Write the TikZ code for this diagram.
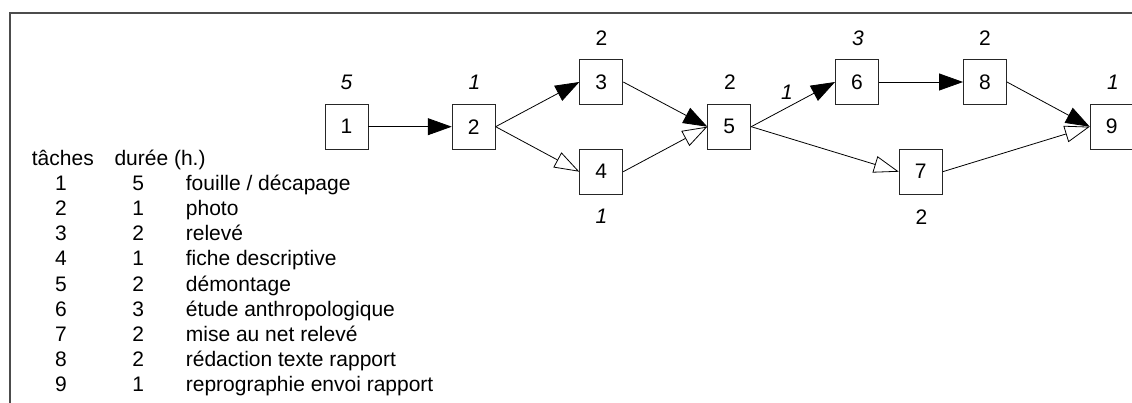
\documentclass[tikz,border=0pt]{standalone}
\usepackage{fontspec}
\setmainfont{Liberation Sans}
\usetikzlibrary{arrows.meta}
\begin{document}
\begin{tikzpicture}[x=1pt,y=-1pt,
  txt/.style={inner sep=0pt, font=\fontsize{21}{25}\selectfont},
  task/.style={txt, draw=black!85, line width=0.9pt, minimum width=43pt, minimum height=45pt},
  dur/.style={txt, anchor=base},
  durit/.style={dur, font=\fontsize{21}{25}\selectfont\itshape},
  tab/.style={txt, anchor=base west},
  tabc/.style={txt, anchor=base},
  crit/.style={-{Triangle[length=24pt,width=17pt]}, line width=0.8pt},
  alt/.style={-{Triangle[open,length=25pt,width=17pt,fill=white]}, line width=0.8pt},
  frame/.style={line width=2pt, black!70}
]
\useasboundingbox (0,0) rectangle (1132,403);
\clip (0,0) rectangle (1132,403);
\coordinate (fa) at (10,403);
\coordinate (fb) at (10,12.7);
\coordinate (fc) at (1133,12.7);
\draw[frame] (fa) -- (fb) -- (fc);

% task boxes
\node[task] (n1) at (346.5,126.7) {1};
\node[task] (n2) at (473.7,126.7) {2};
\node[task] (n3) at (601.3,82) {3};
\node[task] (n4) at (601.3,171.7) {4};
\node[task] (n5) at (729.3,126.7) {5};
\node[task] (n6) at (857,82) {6};
\node[task] (n7) at (920.8,171.7) {7};
\node[task] (n8) at (985,82) {8};
\node[task] (n9) at (1111.7,126.7) {9};

% durations
\node[durit] (d1) at (346.5,90) {5};
\node[durit] (d2) at (474.5,90) {1};
\node[dur]   (d3) at (601.5,46) {2};
\node[durit] (d4) at (601.5,224) {1};
\node[dur]   (d5) at (730,90) {2};
\node[durit] (e56) at (787,99.3) {1};
\node[durit] (d6) at (858,46) {3};
\node[dur]   (d8) at (985,46) {2};
\node[durit] (d9) at (1113,90) {1};
\node[dur]   (d7) at (921.5,225) {2};

% connectors
\draw[crit] (n1.east) -- (n2.west);
\draw[crit] (n2.east) -- (n3.west);
\draw[alt]  (n2.east) -- (n4.west);
\draw[crit] (n3.east) -- (n5.west);
\draw[alt]  (n4.east) -- (n5.west);
\draw[crit] (n5.east) -- (n6.west);
\draw[alt]  (n5.east) -- (n7.west);
\draw[crit] (n6.east) -- (n8.west);
\draw[alt]  (n7.east) -- (n9.west);
\draw[crit] (n8.east) -- (n9.west);

% table
\node[tab] (h1) at (31.7,165.7) {tâches};
\node[tab] (h2) at (114.3,165.7) {durée (h.)};
\node[tabc] (a1) at (61,190.7) {1};
\node[tabc] (b1) at (138.3,190.7) {5};
\node[tab]  (c1) at (185.7,190.7) {fouille / décapage};
\node[tabc] (a2) at (61,215.8) {2};
\node[tabc] (b2) at (138.3,215.8) {1};
\node[tab]  (c2) at (185.7,215.8) {photo};
\node[tabc] (a3) at (61,240.9) {3};
\node[tabc] (b3) at (138.3,240.9) {2};
\node[tab]  (c3) at (185.7,240.9) {relevé};
\node[tabc] (a4) at (61,266) {4};
\node[tabc] (b4) at (138.3,266) {1};
\node[tab]  (c4) at (185.7,266) {fiche descriptive};
\node[tabc] (a5) at (61,291.1) {5};
\node[tabc] (b5) at (138.3,291.1) {2};
\node[tab]  (c5) at (185.7,291.1) {démontage};
\node[tabc] (a6) at (61,316.2) {6};
\node[tabc] (b6) at (138.3,316.2) {3};
\node[tab]  (c6) at (185.7,316.2) {étude anthropologique};
\node[tabc] (a7) at (61,341.3) {7};
\node[tabc] (b7) at (138.3,341.3) {2};
\node[tab]  (c7) at (185.7,341.3) {mise au net relevé};
\node[tabc] (a8) at (61,366.4) {8};
\node[tabc] (b8) at (138.3,366.4) {2};
\node[tab]  (c8) at (185.7,366.4) {rédaction texte rapport};
\node[tabc] (a9) at (61,391.5) {9};
\node[tabc] (b9) at (138.3,391.5) {1};
\node[tab]  (c9) at (185.7,391.5) {reprographie envoi rapport};
\end{tikzpicture}
\end{document}
